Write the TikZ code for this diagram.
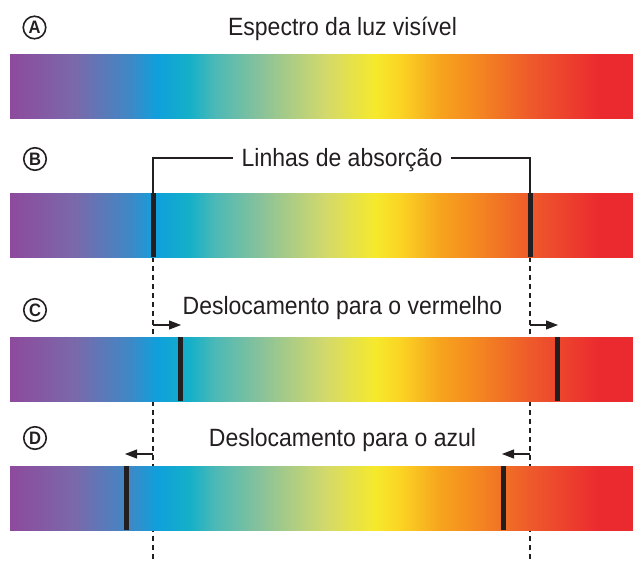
\documentclass[tikz,border=0pt]{standalone}
\usepackage{fontspec}
\setmainfont{Liberation Sans}[FakeStretch=0.92]
\usetikzlibrary{arrows.meta}
\definecolor{ink}{HTML}{231F20}
\definecolor{spA}{HTML}{8E4A9E}
\definecolor{spB}{HTML}{7A69AA}
\definecolor{spC}{HTML}{3F88C6}
\definecolor{spD}{HTML}{0FA0DC}
\definecolor{spE}{HTML}{14B0C8}
\definecolor{spF}{HTML}{4DB9B6}
\definecolor{spG}{HTML}{88C29A}
\definecolor{spH}{HTML}{D3D96B}
\definecolor{spI}{HTML}{F6E92B}
\definecolor{spJ}{HTML}{FBD423}
\definecolor{spK}{HTML}{F7A31E}
\definecolor{spL}{HTML}{F58D1F}
\definecolor{spM}{HTML}{EE5A2B}
\definecolor{spN}{HTML}{EB2A2F}
\pgfdeclarehorizontalshading{spectrum}{100bp}{color(0bp)=(spA); color(25bp)=(spA);
  color(30.2bp)=(spB); color(34.6bp)=(spC); color(36.8bp)=(spD); color(39.4bp)=(spE);
  color(41.5bp)=(spF); color(45.1bp)=(spG); color(50.3bp)=(spH); color(54.3bp)=(spI);
  color(56.3bp)=(spJ); color(59.5bp)=(spK); color(61.9bp)=(spL); color(66.7bp)=(spM);
  color(72.3bp)=(spN); color(75bp)=(spN); color(100bp)=(spN)}
\tikzset{bar/.style={shading=spectrum, draw=none, rectangle, inner sep=0pt, minimum width=623pt, minimum height=64pt},
         absline/.style={fill=ink, draw=none},
         letter/.style={draw=ink, line width=1.6pt, circle, inner sep=0pt, minimum size=22.5pt, text=ink, font=\fontsize{18}{18}\selectfont\bfseries},
         caption/.style={anchor=base, text=ink, inner sep=0pt, font=\fontsize{25}{30}\selectfont},
         guide/.style={draw=ink, line width=1.2pt, dash pattern=on 5pt off 4pt},
         shiftarrow/.style={-{Triangle[length=12pt,width=9pt]}, draw=ink, line width=1.1pt},
         bracket/.style={draw=ink, line width=1.5pt}}

\begin{document}
\begin{tikzpicture}[x=1pt,y=-1pt]
        \useasboundingbox (0,0) rectangle (633,563);
        % guides behind the bars
        \coordinate (gl) at (153,257);
        \coordinate (gr) at (530,257);
        \draw[guide] (gl) -- (gl |- 0,563);
        \draw[guide] (gr) -- (gr |- 0,563);
        % bars
        \node[bar](barA)at(321.5,86){};
        \node[bar](barB)at(321.5,225){};
        \node[bar](barC)at(321.5,369){};
        \node[bar](barD)at(321.5,498){};
        % absorption lines
        \foreach \b/\lx/\rx in {barB/153/530, barC/180/557, barD/126/503}{
            \fill[absline] (\lx-2.5,0 |- \b.north) rectangle (\lx+2.5,0 |- \b.south);
            \fill[absline] (\rx-2.5,0 |- \b.north) rectangle (\rx+2.5,0 |- \b.south);
        }
        % letters
        \node[letter](la)at(34.5,27.5){A};
        \node[letter](lb)at(35,159){B};
        \node[letter](lc)at(35,310){C};
        \node[letter](ld)at(35,438){D};
        % captions
        \node[caption](title)at(342.5,35){Espectro da luz visível};
        \node[caption](absorcao)at(342,166){Linhas de absorção};
        \node[caption](vermelho)at(342.5,314){Deslocamento para o vermelho};
        \node[caption](azul)at(342.5,446){Deslocamento para o azul};
        % bracket
        \coordinate (bl) at (153,193);
        \coordinate (br) at (530,193);
        \draw[bracket] (bl) -- (bl |- 0,158) -- ([xshift=-8pt]absorcao.west |- 0,158);
        \draw[bracket] ([xshift=8pt]absorcao.east |- 0,158) -- (br |- 0,158) -- (br);
        % shift arrows
        \coordinate (cl) at (153,325);
        \coordinate (cr) at (530,325);
        \coordinate (dl) at (153,454);
        \coordinate (dr) at (530,454);
        \draw[shiftarrow] (cl) -- ++(28,0);
        \draw[shiftarrow] (cr) -- ++(28,0);
        \draw[shiftarrow] (dl) -- ++(-28,0);
        \draw[shiftarrow] (dr) -- ++(-28,0);
\end{tikzpicture}
\end{document}
